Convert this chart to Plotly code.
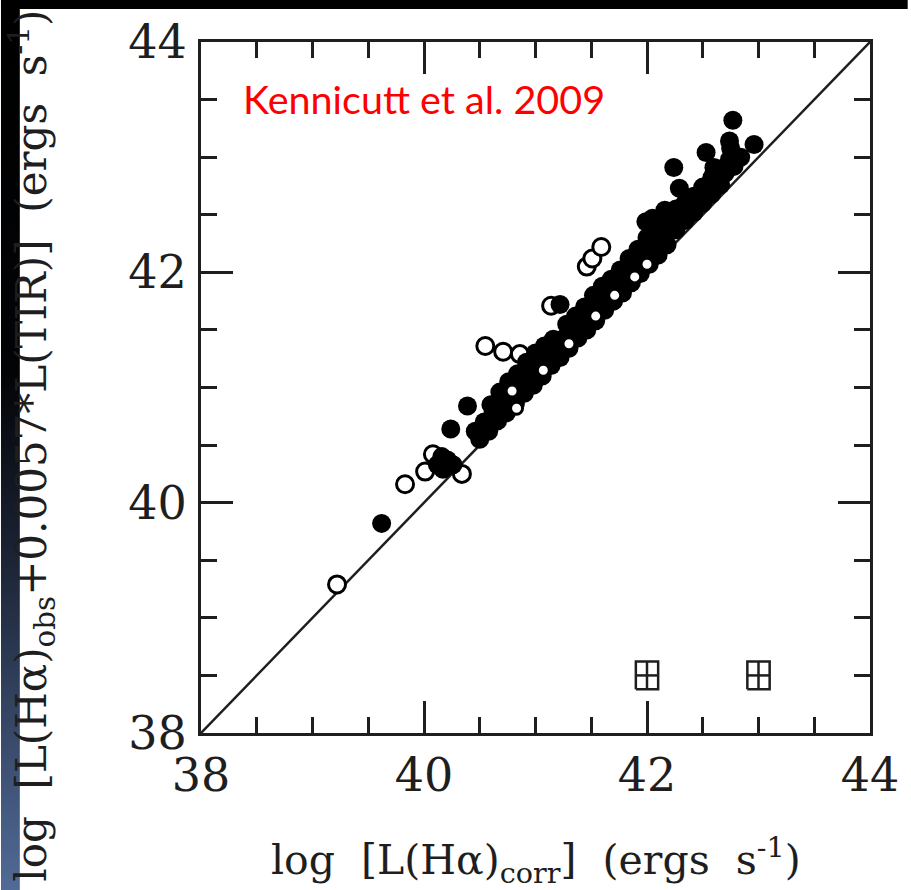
import base64
import plotly.graph_objects as go

# ---------------- data ----------------
# isolated / outlying filled galaxies
filled_out_x = [39.62, 40.12, 40.17, 40.21, 40.26, 40.16, 40.24, 40.39, 41.22, 41.99,
                42.05, 42.16, 42.24, 42.29, 42.53, 42.60, 42.74, 42.75, 42.77, 42.96]
filled_out_y = [39.82, 40.33, 40.29, 40.37, 40.33, 40.40, 40.64, 40.84, 41.72, 42.44,
                42.47, 42.54, 42.91, 42.73, 43.04, 42.91, 43.14, 43.08, 43.32, 43.11]

# dense ridge of filled galaxies just above the one-to-one line
filled_low_x = [40.50, 40.58, 40.66, 40.74, 40.82, 40.90, 40.98, 41.06, 41.14, 41.22, 41.30,
                41.38, 41.46, 41.54, 41.62, 41.70, 41.78, 41.86, 41.94, 42.02, 42.10, 42.18,
                42.26, 42.34, 42.42, 42.50, 42.58, 42.66, 42.78, 42.84]
filled_low_y = [40.55, 40.62, 40.71, 40.78, 40.86, 40.95, 41.02, 41.10, 41.19, 41.26, 41.34,
                41.43, 41.50, 41.58, 41.67, 41.75, 41.82, 41.91, 41.99, 42.07, 42.15, 42.24,
                42.37, 42.45, 42.52, 42.60, 42.68, 42.76, 42.92, 43.00]

filled_mid_x = [40.46, 40.54, 40.62, 40.70, 40.78, 40.86, 40.94, 41.02, 41.10, 41.18, 41.26,
                41.34, 41.42, 41.50, 41.58, 41.66, 41.74, 41.82, 41.90, 41.98, 42.06, 42.14,
                42.22, 42.30, 42.38, 42.46, 42.54, 42.62, 42.70]
filled_mid_y = [40.62, 40.70, 40.79, 40.88, 40.95, 41.03, 41.12, 41.20, 41.27, 41.36, 41.43,
                41.52, 41.59, 41.68, 41.76, 41.83, 41.92, 41.99, 42.08, 42.16, 42.23, 42.31,
                42.37, 42.46, 42.53, 42.62, 42.69, 42.78, 42.86]

filled_up_x = [40.60, 40.68, 40.76, 40.84, 40.92, 41.00, 41.08, 41.16, 41.28, 41.36, 41.44,
               41.52, 41.60, 41.68, 41.76, 41.84, 41.92, 42.00, 42.08, 42.16, 42.26, 42.34,
               42.42, 42.50, 42.58, 42.66, 42.74]
filled_up_y = [40.85, 40.96, 41.05, 41.12, 41.22, 41.30, 41.36, 41.42, 41.55, 41.62, 41.70,
               41.80, 41.88, 41.94, 42.02, 42.12, 42.20, 42.30, 42.36, 42.44, 42.55, 42.60,
               42.66, 42.74, 42.82, 42.90, 42.98]

filled_x = filled_out_x + filled_low_x + filled_mid_x + filled_up_x
filled_y = filled_out_y + filled_low_y + filled_mid_y + filled_up_y

# open galaxies (drawn beneath and above the filled ones)
open_under_x = [39.22, 39.83, 40.01, 40.08, 40.34, 40.55, 40.71, 40.86, 41.14, 41.46, 41.51, 41.59]
open_under_y = [39.29, 40.16, 40.27, 40.42, 40.25, 41.36, 41.31, 41.29, 41.71, 42.05, 42.12, 42.22]

open_over_x = [40.79, 40.83, 41.07, 41.30, 41.54, 41.71, 41.89, 42.00]
open_over_y = [40.97, 40.82, 41.15, 41.38, 41.62, 41.80, 41.96, 42.07]

# typical error bars (box with cross) at bottom right
err_x = [42.0, 43.0]
err_y = [38.5, 38.5]
err_dx = 0.10
err_dy = 0.12

one_to_one = [38, 44]
axis_range = [38, 44]
major_ticks = [38, 40, 42, 44]

INK = "#1e1e1e"
SERIF = "DejaVu Serif"

fig = go.Figure()

fig.add_trace(go.Scatter(x=one_to_one, y=one_to_one, mode="lines",
                         line=dict(color=INK, width=2.5), showlegend=False, hoverinfo="skip"))

fig.add_trace(go.Scatter(x=open_under_x, y=open_under_y, mode="markers",
                         marker=dict(symbol="circle", size=17, color="white",
                                     line=dict(color="black", width=3)),
                         showlegend=False))

fig.add_trace(go.Scatter(x=filled_x, y=filled_y, mode="markers",
                         marker=dict(symbol="circle", size=19, color="black",
                                     line=dict(width=0)),
                         showlegend=False))

fig.add_trace(go.Scatter(x=open_over_x, y=open_over_y, mode="markers",
                         marker=dict(symbol="circle", size=12, color="white",
                                     line=dict(color="black", width=3)),
                         showlegend=False))

# error boxes built from centres and half-widths
bx, by = [], []
for cx, cy in zip(err_x, err_y):
    bx += [cx - err_dx, cx + err_dx, cx + err_dx, cx - err_dx, cx - err_dx, None,
           cx, cx, None, cx - err_dx, cx + err_dx, None]
    by += [cy - err_dy, cy - err_dy, cy + err_dy, cy + err_dy, cy - err_dy, None,
           cy - err_dy, cy + err_dy, None, cy, cy, None]
fig.add_trace(go.Scatter(x=bx, y=by, mode="lines", line=dict(color=INK, width=2.5),
                         showlegend=False, hoverinfo="skip"))

axis_common = dict(
    range=axis_range, tickvals=major_ticks, ticktext=[str(v) for v in major_ticks],
    ticks="inside", ticklen=32, tickwidth=2.5, tickcolor=INK,
    mirror="allticks", showline=True, linewidth=3, linecolor=INK,
    showgrid=False, zeroline=False,
    tickfont=dict(family=SERIF, size=46, color=INK),
    minor=dict(dtick=0.5, tick0=38, ticks="inside", ticklen=16, tickwidth=2.5,
               tickcolor=INK, showgrid=False),
)
fig.update_xaxes(**axis_common, ticklabelstandoff=0)
fig.update_yaxes(**axis_common, ticklabelstandoff=2)

# background decoration: black top band and dark-blue gradient strip at the left
svg = ('<svg xmlns="http://www.w3.org/2000/svg" width="911" height="890" viewBox="0 0 911 890" '
       'preserveAspectRatio="none"><defs><linearGradient id="g" x1="0" y1="0" x2="0" y2="1">'
       '<stop offset="0" stop-color="#000000"/><stop offset="0.42" stop-color="#030406"/>'
       '<stop offset="0.63" stop-color="#1c2436"/><stop offset="1" stop-color="#516b97"/>'
       '</linearGradient></defs>'
       '<rect x="0" y="0" width="19" height="890" fill="url(#g)"/>'
       '<rect x="0" y="0" width="911" height="9" fill="#000000"/></svg>')
src = "data:image/svg+xml;base64," + base64.b64encode(svg.encode()).decode()

L, R, T, B = 201, 38, 42, 157
W, H = 911, 890
pw, ph = W - L - R, H - T - B

fig.add_layout_image(dict(source=src, xref="paper", yref="paper",
                          x=-L / pw, y=1 + T / ph, sizex=W / pw, sizey=H / ph,
                          xanchor="left", yanchor="top", sizing="stretch", layer="below"))

fig.add_annotation(text="log  [L(H\u03b1)<sub>corr</sub>]  (ergs  s<sup>-1</sup>)",
                   xref="paper", yref="paper", x=(537 - L) / pw, y=(733 - 860) / ph,
                   xanchor="center", yanchor="middle", showarrow=False,
                   font=dict(family=SERIF, size=41, color=INK))
fig.add_annotation(text="log  [L(H\u03b1)<sub>obs</sub>+0.0057*L(TIR)]  (ergs  s<sup>-1</sup>)",
                   xref="paper", yref="paper", x=(31 - L) / pw, y=(733 - 446) / ph,
                   xanchor="center", yanchor="middle", showarrow=False, textangle=-90,
                   font=dict(family=SERIF, size=42, color=INK))
fig.add_annotation(text="Kennicutt et al. 2009",
                   xref="paper", yref="paper", x=(241 - L) / pw, y=(733 - 99) / ph,
                   xanchor="left", yanchor="middle", showarrow=False,
                   font=dict(family="Lato", size=39.5, color="#ff0000"))

fig.update_layout(width=W, height=H, margin=dict(l=L, r=R, t=T, b=B),
                  paper_bgcolor="white", plot_bgcolor="white", showlegend=False)

fig.write_html("out.html")
